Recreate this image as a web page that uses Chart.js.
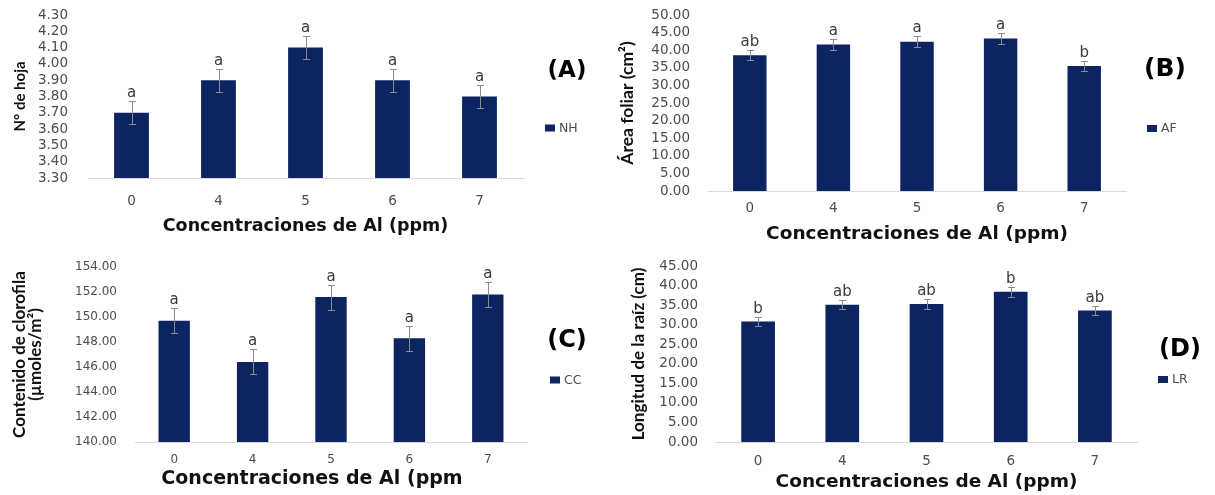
<!DOCTYPE html>
<html><head><meta charset="utf-8">
<script src="https://cdn.jsdelivr.net/npm/chart.js@4/dist/chart.umd.min.js"></script>
<style>
html,body{margin:0;padding:0;background:#fff;}
body{width:1215px;height:495px;overflow:hidden;position:relative;}
canvas{position:absolute;}
</style></head><body>
<canvas id="cA" width="607" height="245" style="left:0px;top:0px"></canvas>
<canvas id="cB" width="608" height="245" style="left:607px;top:0px"></canvas>
<canvas id="cC" width="607" height="250" style="left:0px;top:245px"></canvas>
<canvas id="cD" width="608" height="250" style="left:607px;top:245px"></canvas>
<script>
// ---- data ----
const categories = ['0', '4', '5', '6', '7'];

const nhValues  = [3.70, 3.90, 4.10, 3.90, 3.80];
const nhErrors  = [0.07, 0.07, 0.07, 0.07, 0.07];
const nhLetters = ['a', 'a', 'a', 'a', 'a'];
const nhTicks   = [3.3, 3.4, 3.5, 3.6, 3.7, 3.8, 3.9, 4.0, 4.1, 4.2, 4.3];

const afValues  = [38.6, 41.6, 42.4, 43.3, 35.5];
const afErrors  = [1.5, 1.5, 1.5, 1.5, 1.4];
const afLetters = ['ab', 'a', 'a', 'a', 'b'];
const afTicks   = [0, 5, 10, 15, 20, 25, 30, 35, 40, 45, 50];

const ccValues  = [149.7, 146.4, 151.6, 148.3, 151.8];
const ccErrors  = [1.0, 1.0, 1.0, 1.0, 1.0];
const ccLetters = ['a', 'a', 'a', 'a', 'a'];
const ccTicks   = [140, 142, 144, 146, 148, 150, 152, 154];

const lrValues  = [30.8, 35.1, 35.3, 38.4, 33.6];
const lrErrors  = [1.2, 1.2, 1.2, 1.2, 1.2];
const lrLetters = ['b', 'ab', 'ab', 'b', 'ab'];
const lrTicks   = [0, 5, 10, 15, 20, 25, 30, 35, 40, 45];

// ---- style ----
const BAR = '#0c2461';
const TICK = '#4d4d4d';
const WIDE = '"DejaVu Sans"';

const extrasPlugin = {
  id: 'extras',
  afterDatasetsDraw(chart, args, o) {
    const ctx = chart.ctx;
    const meta = chart.getDatasetMeta(0);
    const ys = chart.scales.y;
    const vals = chart.data.datasets[0].data;
    ctx.save();
    meta.data.forEach((bar, i) => {
      const v = vals[i], e = o.errors[i];
      const yt = Math.round(ys.getPixelForValue(v + e)) + 0.5;
      const yb = Math.round(ys.getPixelForValue(v - e)) + 0.5;
      const x = Math.round(bar.x) + 0.5;
      ctx.strokeStyle = '#8c8c8c';
      ctx.lineWidth = 1;
      ctx.beginPath();
      ctx.moveTo(x, yt); ctx.lineTo(x, yb);
      ctx.moveTo(x - 3.5, yt); ctx.lineTo(x + 3.5, yt);
      ctx.moveTo(x - 3.5, yb); ctx.lineTo(x + 3.5, yb);
      ctx.stroke();
      ctx.fillStyle = '#3a3a3a';
      ctx.font = '15px ' + WIDE;
      ctx.textAlign = 'center';
      ctx.textBaseline = 'alphabetic';
      ctx.fillText(o.letters[i], bar.x, yt - 5);
    });
    ctx.fillStyle = '#000';
    ctx.font = 'bold ' + o.tagSize + 'px ' + WIDE;
    ctx.textAlign = 'center';
    ctx.textBaseline = 'middle';
    ctx.fillText(o.tag, o.tagX, o.tagY);
    ctx.fillStyle = BAR;
    ctx.fillRect(o.legX, o.legY - 3.5, 10, 7);
    ctx.fillStyle = TICK;
    ctx.font = '12.5px ' + WIDE;
    ctx.textAlign = 'left';
    ctx.fillText(o.legLabel, o.legX + 14, o.legY + 0.5);
    if (o.xTitleX !== undefined) {
      ctx.fillStyle = '#111';
      ctx.font = 'bold ' + o.xTitleSize + 'px ' + WIDE;
      ctx.textAlign = 'center';
      ctx.textBaseline = 'middle';
      ctx.fillText(o.xTitleText, o.xTitleX, o.xTitleY);
    }
    ctx.restore();
  }
};

function makePanel(id, p) {
  const canvas = document.getElementById(id);
  const cw = canvas.width, ch = canvas.height;
  const customTitle = p.xTitleX !== undefined;
  return new Chart(canvas, {
    type: 'bar',
    data: {
      labels: categories,
      datasets: [{
        label: p.legLabel,
        data: p.values,
        backgroundColor: BAR,
        borderWidth: 0,
        barPercentage: 0.4,
        categoryPercentage: 1.0
      }]
    },
    options: {
      responsive: false,
      animation: false,
      devicePixelRatio: 1,
      layout: { padding: { left: 0, top: p.T, right: cw - p.R, bottom: 0 } },
      plugins: {
        legend: { display: false },
        tooltip: { enabled: false },
        extras: {
          errors: p.errors, letters: p.letters, tag: p.tag, tagSize: p.tagSize, tagX: p.tagX, tagY: p.tagY,
          legX: p.legX, legY: p.legY, legLabel: p.legLabel,
          xTitleX: p.xTitleX, xTitleY: p.xTitleY, xTitleText: p.xTitle, xTitleSize: p.xTitleSize
        }
      },
      scales: {
        x: {
          grid: { display: false, drawTicks: false },
          border: { display: true, color: '#d9d9d9', width: 1 },
          ticks: { color: TICK, font: { family: 'DejaVu Sans', size: p.tickSize }, padding: p.xTickPad, maxRotation: 0 },
          title: {
            display: !customTitle, text: p.xTitle, color: '#111',
            font: { family: 'DejaVu Sans', weight: 'bold', size: p.xTitleSize, lineHeight: 1.2 },
            padding: { top: 0, bottom: p.xTitlePad || 0 }
          },
          afterFit(s) { s.height = ch - p.B; s.paddingLeft = 0; s.paddingRight = 0; }
        },
        y: {
          min: p.ticks[0], max: p.ticks[p.ticks.length - 1],
          grid: { display: false, drawTicks: false },
          border: { display: false },
          afterBuildTicks(s) { s.ticks = p.ticks.map(v => ({ value: v })); },
          ticks: {
            autoSkip: false, color: TICK, padding: p.yTickPad,
            font: { family: 'DejaVu Sans', size: p.tickSize, lineHeight: 1.1 },
            callback: v => Number(v).toFixed(2)
          },
          title: {
            display: true, text: p.yTitle, color: '#111',
            font: { family: 'Lato', weight: 'bold', size: p.yTitleSize, lineHeight: p.yTitleLH },
            padding: { top: p.yTitlePad, bottom: 0 }
          },
          afterFit(s) { s.width = p.L; s.paddingTop = 0; s.paddingBottom = 0; }
        }
      }
    },
    plugins: [extrasPlugin]
  });
}

function build() {
  makePanel('cA', {
    values: nhValues, errors: nhErrors, letters: nhLetters, ticks: nhTicks,
    L: 88, T: 15, R: 523, B: 178, tickSize: 13.5,
    xTickPad: 15, xTitleSize: 17.5, xTitlePad: 8.5, yTickPad: 20,
    xTitle: 'Concentraciones de Al (ppm)',
    yTitle: 'N° de hoja', yTitleSize: 15, yTitleLH: 1.2, yTitlePad: 11,
    tag: '(A)', tagSize: 23, tagX: 567, tagY: 71, legX: 545, legY: 128, legLabel: 'NH'
  });
  makePanel('cB', {
    values: afValues, errors: afErrors, letters: afLetters, ticks: afTicks,
    L: 101, T: 15, R: 519, B: 191, tickSize: 13.5,
    xTickPad: 9, xTitleSize: 18.5, xTitlePad: 0, yTickPad: 18,
    xTitle: 'Concentraciones de Al (ppm)',
    yTitle: 'Área foliar (cm²)', yTitleSize: 17.5, yTitleLH: 1.2, yTitlePad: 9.5,
    tag: '(B)', tagSize: 25, tagX: 558, tagY: 69, legX: 540, legY: 128.5, legLabel: 'AF'
  });
  makePanel('cC', {
    values: ccValues, errors: ccErrors, letters: ccLetters, ticks: ccTicks,
    L: 135, T: 22, R: 527, B: 197, tickSize: 12,
    xTickPad: 11, xTitleSize: 19, xTitleX: 312, xTitleY: 234, yTickPad: 18,
    xTitle: 'Concentraciones de Al (ppm',
    yTitle: ['Contenido de clorofila', '(µmoles/m²)'], yTitleSize: 17, yTitleLH: 0.95, yTitlePad: 11,
    tag: '(C)', tagSize: 24, tagX: 567, tagY: 96, legX: 550, legY: 135, legLabel: 'CC'
  });
  makePanel('cD', {
    values: lrValues, errors: lrErrors, letters: lrLetters, ticks: lrTicks,
    L: 109, T: 21, R: 530, B: 197, tickSize: 13.5,
    xTickPad: 11, xTitleSize: 18.5, xTitlePad: 1.9, yTickPad: 18,
    xTitle: 'Concentraciones de Al (ppm)',
    yTitle: 'Longitud de la raíz (cm)', yTitleSize: 17, yTitleLH: 1.2, yTitlePad: 21.8,
    tag: '(D)', tagSize: 24, tagX: 573, tagY: 104.5, legX: 551, legY: 134.5, legLabel: 'LR'
  });
}

Promise.all([
  document.fonts.load('13px "DejaVu Sans"'),
  document.fonts.load('bold 17px "DejaVu Sans"'),
  document.fonts.load('bold 16px "Lato"')
]).then(build, build);
</script>
</body></html>
